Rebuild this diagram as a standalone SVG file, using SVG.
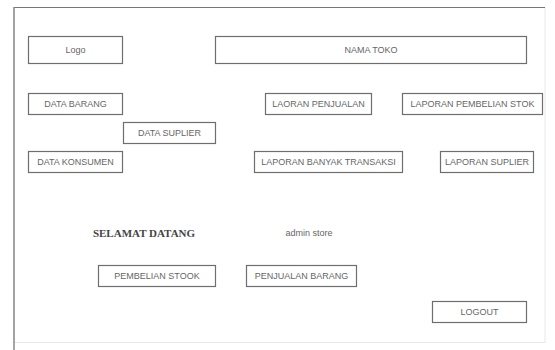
<svg xmlns="http://www.w3.org/2000/svg" width="555" height="350" viewBox="0 0 555 350">
<style>
.b{fill:#fff;stroke:#6e6e6e;stroke-width:1.2}
.t{font-family:"Liberation Sans",Arial,sans-serif;font-size:9px;fill:#666;text-anchor:middle;dominant-baseline:central}
.s{font-family:"Liberation Serif","Times New Roman",serif;font-size:11px;font-weight:bold;fill:#444;text-anchor:middle;dominant-baseline:central}
</style>
<rect width="555" height="350" fill="#fff"/>
<g id="frame">
<rect x="14" y="7.5" width="531" height="335" fill="none" stroke="#e8e8e8" stroke-width="1"/>
<line x1="14" y1="7.5" x2="545" y2="7.5" stroke="#777" stroke-width="1"/>
<line x1="14" y1="7" x2="14" y2="350" stroke="#888" stroke-width="1.5"/>
</g>
<g id="logo"><rect class="b" x="28.5" y="36.5" width="94" height="27"/><text class="t" x="75.5" y="50">Logo</text></g>
<g id="nama-toko"><rect class="b" x="215.5" y="36.5" width="311" height="27"/><text class="t" x="371" y="50">NAMA TOKO</text></g>
<g id="data-barang"><rect class="b" x="28.5" y="93.5" width="94" height="21"/><text class="t" x="75.5" y="104">DATA BARANG</text></g>
<g id="data-suplier"><rect class="b" x="123.5" y="122.5" width="92" height="21"/><text class="t" x="169.5" y="133">DATA SUPLIER</text></g>
<g id="data-konsumen"><rect class="b" x="28.5" y="151.5" width="94" height="21"/><text class="t" x="75.5" y="162">DATA KONSUMEN</text></g>
<g id="laporan-penjualan"><rect class="b" x="265.5" y="93.5" width="106" height="21"/><text class="t" x="318.5" y="104">LAORAN PENJUALAN</text></g>
<g id="laporan-pembelian"><rect class="b" x="402.5" y="93.5" width="140" height="21"/><text class="t" x="472.5" y="104">LAPORAN PEMBELIAN STOK</text></g>
<g id="laporan-transaksi"><rect class="b" x="254.5" y="151.5" width="148" height="21"/><text class="t" x="328.5" y="162">LAPORAN BANYAK TRANSAKSI</text></g>
<g id="laporan-suplier"><rect class="b" x="440.5" y="151.5" width="93" height="21"/><text class="t" x="487" y="162">LAPORAN SUPLIER</text></g>
<g id="selamat"><text class="s" x="144" y="233">SELAMAT DATANG</text></g>
<g id="admin"><text class="t" x="309" y="233">admin store</text></g>
<g id="pembelian-stook"><rect class="b" x="98.5" y="265.5" width="117" height="21"/><text class="t" x="157" y="276">PEMBELIAN STOOK</text></g>
<g id="penjualan-barang"><rect class="b" x="246.5" y="265.5" width="110" height="21"/><text class="t" x="301.5" y="276">PENJUALAN BARANG</text></g>
<g id="logout"><rect class="b" x="432.5" y="301.5" width="94" height="21"/><text class="t" x="479.5" y="312">LOGOUT</text></g>
<g id="connectors"></g>
</svg>
